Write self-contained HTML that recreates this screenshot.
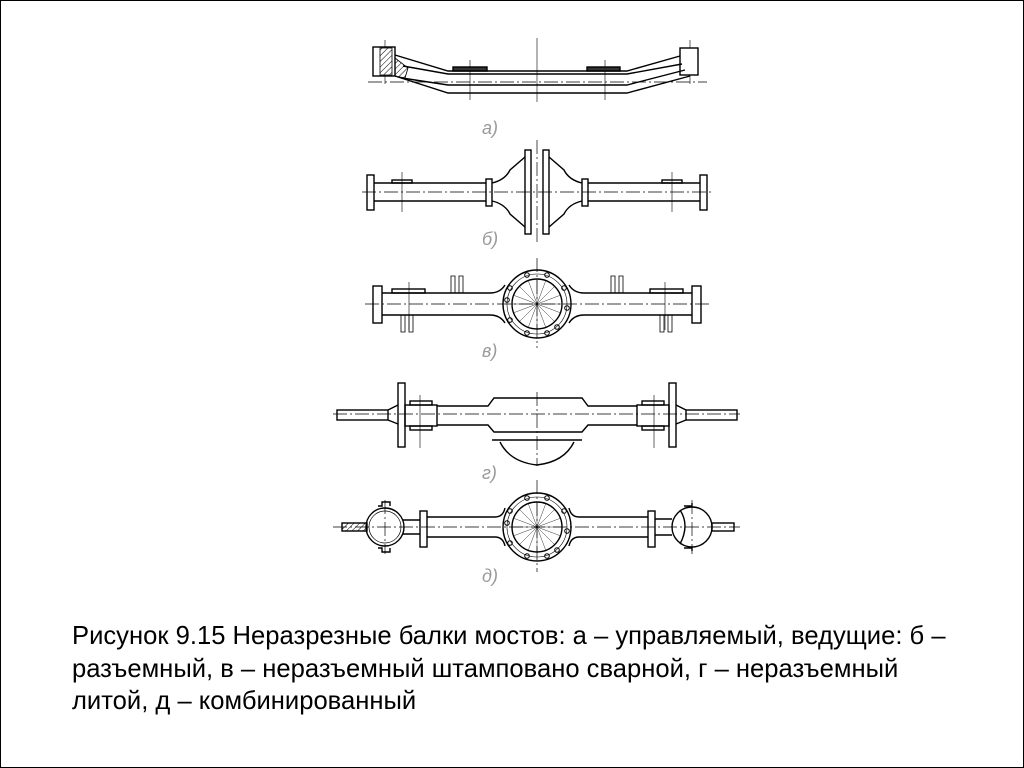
<!DOCTYPE html>
<html><head><meta charset="utf-8"><style>
html,body{margin:0;padding:0;background:#fff}
.wrap{position:relative;width:1022px;height:766px;border:1px solid #000;overflow:hidden}
svg{position:absolute;left:0;top:0}
.cap{position:absolute;left:71px;top:619px;font-family:"Liberation Sans",sans-serif;font-size:25.6px;line-height:32.5px;color:#000;white-space:nowrap}
</style></head><body><div class="wrap">
<svg width="1022" height="766" viewBox="1 1 1022 766">
<defs><pattern id="h" width="4" height="4" patternUnits="userSpaceOnUse" patternTransform="rotate(45)"><line x1="0" y1="0" x2="0" y2="4" stroke="#000" stroke-width="1"/></pattern></defs>
<g fill="none" stroke="#000" stroke-width="1.4">
<!-- a -->
<g stroke-width="0.7" stroke-dasharray="14 3 2 3"><line x1="368" y1="82" x2="707" y2="82"/></g>
<g stroke-width="0.6"><line x1="537" y1="38" x2="537" y2="102"/><line x1="470" y1="60" x2="470" y2="100"/><line x1="605" y1="60" x2="605" y2="100"/><line x1="385" y1="40" x2="385" y2="84"/><line x1="690" y1="40" x2="690" y2="84"/></g>
<rect x="373" y="47" width="22" height="29" fill="#fff"/>
<rect x="380" y="48" width="12" height="27" fill="url(#h)" stroke-width="0.8"/>
<rect x="680" y="48" width="18" height="27" fill="#fff"/>
<path d="M395 55 L448 71 L627 71 L680 56"/>
<path d="M403 66 L448 74 L627 74 L682 64"/>
<path d="M402 78 L448 85 L627 85 L685 70"/>
<path d="M395 76 L448 93 L627 93 L690 76"/>
<path d="M395 58 L408 68 L405 78 L395 76Z" fill="url(#h)" stroke-width="0.8"/>
<rect x="453" y="67" width="34" height="4" fill="#333"/><rect x="587" y="67" width="33" height="4" fill="#333"/>
<!-- b -->
<g stroke-width="0.7" stroke-dasharray="14 3 2 3"><line x1="362" y1="192" x2="712" y2="192"/><line x1="537" y1="140" x2="537" y2="242"/></g>
<g stroke-width="0.6"><line x1="402" y1="172" x2="402" y2="212"/><line x1="672" y1="172" x2="672" y2="212"/></g>
<rect x="367" y="175" width="7" height="35"/><rect x="700" y="175" width="7" height="35"/>
<path d="M374 183 H486 M374 201 H486 M588 183 H700 M588 201 H700"/>
<rect x="392" y="180" width="20" height="3"/><rect x="662" y="180" width="20" height="3"/>
<rect x="486" y="179" width="6" height="27"/><rect x="582" y="179" width="6" height="27"/>
<path d="M492 183 Q505 180 510 170 L525 157 M492 201 Q505 204 510 214 L525 227"/>
<path d="M582 183 Q569 180 564 170 L549 157 M582 201 Q569 204 564 214 L549 227"/>
<rect x="525" y="150" width="6" height="84"/><rect x="543" y="150" width="6" height="84"/>
<!-- v -->
<g stroke-width="0.7" stroke-dasharray="14 3 2 3"><line x1="365" y1="304" x2="710" y2="304"/><line x1="537" y1="258" x2="537" y2="348"/></g>
<g stroke-width="0.6"><line x1="409" y1="282" x2="409" y2="330"/><line x1="665" y1="282" x2="665" y2="330"/></g>
<rect x="373" y="286" width="9" height="37"/><rect x="692" y="286" width="9" height="37"/>
<path d="M382 293 H490 Q500 293 505 285 M382 315 H490 Q500 315 505 323 M692 293 H584 Q574 293 569 285 M692 315 H584 Q574 315 569 323"/>
<rect x="392" y="289" width="33" height="4"/><rect x="650" y="289" width="33" height="4"/>
<g stroke-width="0.8"><path d="M451 293 V276 H455 V293 M459 293 V276 H463 V293 M611 293 V276 H615 V293 M619 293 V276 H623 V293 M401 315 V332 H405 V315 M409 315 V332 H413 V315 M660 315 V332 H664 V315 M668 315 V332 H672 V315"/></g>
<circle cx="537" cy="304" r="34"/><circle cx="537" cy="304" r="30" stroke-width="0.6"/><circle cx="537" cy="304" r="25"/>
<g stroke-width="0.4"><path d="M537 279 V329 M512 304 H562 M519 286 L555 322 M555 286 L519 322 M528 280 L546 328 M546 280 L528 328 M513 295 L561 313 M513 313 L561 295"/></g>
<g stroke-width="1"><circle cx="527" cy="275" r="2.3"/><circle cx="547" cy="275" r="2.3"/><circle cx="564" cy="288" r="2.3"/><circle cx="567" cy="308" r="2.3"/><circle cx="557" cy="327" r="2.3"/><circle cx="547" cy="333" r="2.3"/><circle cx="527" cy="333" r="2.3"/><circle cx="510" cy="320" r="2.3"/><circle cx="507" cy="300" r="2.3"/><circle cx="510" cy="288" r="2.3"/></g>
<!-- g -->
<g stroke-width="0.7" stroke-dasharray="14 3 2 3"><line x1="333" y1="414" x2="740" y2="414"/><line x1="537" y1="392" x2="537" y2="466"/></g>
<g stroke-width="0.6"><line x1="420" y1="395" x2="420" y2="448"/><line x1="654" y1="395" x2="654" y2="448"/></g>
<rect x="337" y="410" width="51" height="10"/><rect x="686" y="410" width="51" height="10"/>
<path d="M388 410 L398 405 M388 420 L398 424 M686 410 L676 405 M686 420 L676 424"/>
<rect x="398" y="383" width="7" height="64"/><rect x="669" y="383" width="7" height="64"/>
<rect x="405" y="405" width="32" height="21"/><rect x="637" y="405" width="32" height="21"/>
<rect x="410" y="401" width="22" height="4"/><rect x="410" y="426" width="22" height="4"/><rect x="642" y="401" width="22" height="4"/><rect x="642" y="426" width="22" height="4"/>
<path d="M437 406 H488 L494 398 H582 L588 406 H637 M437 425 H488 L494 432 H582 L588 425 H637"/>
<path d="M492 440 H582"/><path d="M500 442 Q510 462 537 465 Q564 462 574 442"/>
<!-- d -->
<g stroke-width="0.7" stroke-dasharray="14 3 2 3"><line x1="333" y1="527" x2="740" y2="527"/><line x1="537" y1="480" x2="537" y2="572"/><line x1="385" y1="500" x2="385" y2="554"/><line x1="692" y1="500" x2="692" y2="554"/></g>
<rect x="342" y="523" width="25" height="8" fill="url(#h)"/>
<circle cx="385" cy="527" r="19"/><circle cx="385" cy="527" r="16" stroke-width="0.7"/>
<path d="M378 506 h4 v-4 h8 v4 M378 548 h4 v4 h8 v-4"/>
<path d="M403 520 H420 M403 534 H420"/>
<rect x="420" y="511" width="7" height="36"/><rect x="648" y="511" width="7" height="36"/>
<path d="M427 517 H495 Q503 517 505 508 M427 537 H495 Q503 537 505 546 M648 517 H579 Q571 517 569 508 M648 537 H579 Q571 537 569 546"/>
<path d="M655 519 H672 M655 535 H672"/>
<circle cx="692" cy="527" r="20"/><path d="M680 510 Q690 525 680 544 M684 506 h8 v-3 M684 548 h8 v3"/>
<rect x="712" y="523" width="22" height="8"/>
<circle cx="537" cy="527" r="34"/><circle cx="537" cy="527" r="30" stroke-width="0.6"/><circle cx="537" cy="527" r="25"/>
<g stroke-width="0.4"><path d="M537 502 V552 M512 527 H562 M519 509 L555 545 M555 509 L519 545 M528 503 L546 551 M546 503 L528 551 M513 518 L561 536 M513 536 L561 518"/></g>
<g stroke-width="1"><circle cx="527" cy="498" r="2.3"/><circle cx="547" cy="498" r="2.3"/><circle cx="564" cy="511" r="2.3"/><circle cx="567" cy="531" r="2.3"/><circle cx="557" cy="550" r="2.3"/><circle cx="547" cy="556" r="2.3"/><circle cx="527" cy="556" r="2.3"/><circle cx="510" cy="543" r="2.3"/><circle cx="507" cy="523" r="2.3"/><circle cx="510" cy="511" r="2.3"/></g>
</g>
<g font-family="Liberation Sans,sans-serif" font-size="18" font-style="italic" fill="#999">
<text x="482" y="134">а)</text><text x="482" y="245">б)</text><text x="482" y="357">в)</text><text x="482" y="479">г)</text><text x="482" y="582">д)</text>
</g>
</svg>
<div class="cap">Рисунок 9.15 Неразрезные балки мостов: а – управляемый, ведущие: б –<br>разъемный, в – неразъемный штамповано сварной, г – неразъемный<br>литой, д – комбинированный</div>
</div></body></html>
